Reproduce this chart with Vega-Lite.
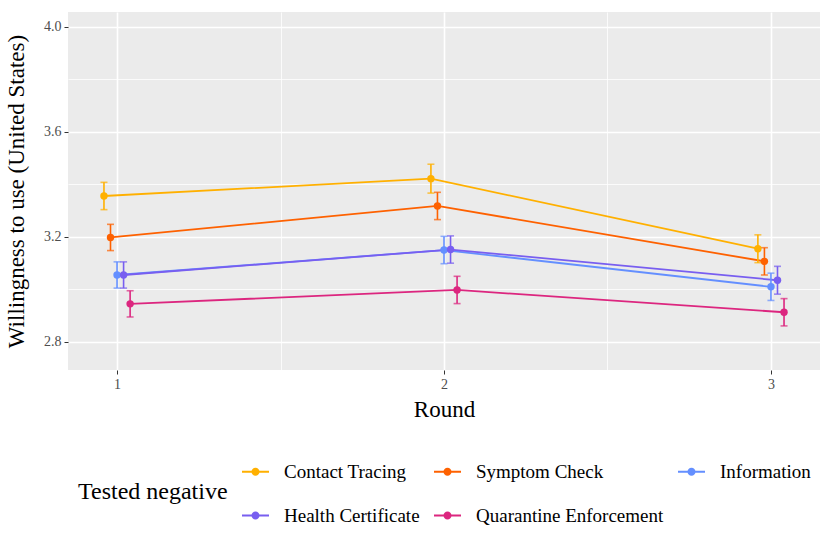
{
  "$schema": "https://vega.github.io/schema/vega-lite/v6.json",
  "width": 752,
  "height": 358,
  "padding": {"left": 5, "top": 12, "right": 10, "bottom": 5},
  "background": "white",
  "config": {
    "font": "Liberation Serif",
    "view": {"fill": "#EBEBEB", "stroke": null},
    "axis": {
      "domain": false,
      "gridColor": "white",
      "tickColor": "#333333",
      "tickSize": 4,
      "labelFont": "Liberation Serif",
      "labelColor": "#4D4D4D",
      "labelFontSize": 14,
      "labelPadding": 3,
      "titleFont": "Liberation Serif",
      "titleFontSize": 23,
      "titleFontWeight": "normal",
      "titleColor": "black"
    },
    "legend": {
      "labelFont": "Liberation Serif",
      "titleFont": "Liberation Serif"
    }
  },
  "data": {
    "values": [
      {"group": "Contact Tracing", "round": 1, "mean": 3.356, "lower": 3.304, "upper": 3.408},
      {"group": "Contact Tracing", "round": 2, "mean": 3.422, "lower": 3.367, "upper": 3.477},
      {"group": "Contact Tracing", "round": 3, "mean": 3.155, "lower": 3.102, "upper": 3.208},
      {"group": "Symptom Check", "round": 1, "mean": 3.198, "lower": 3.148, "upper": 3.248},
      {"group": "Symptom Check", "round": 2, "mean": 3.318, "lower": 3.266, "upper": 3.370},
      {"group": "Symptom Check", "round": 3, "mean": 3.107, "lower": 3.055, "upper": 3.159},
      {"group": "Information", "round": 1, "mean": 3.055, "lower": 3.005, "upper": 3.105},
      {"group": "Information", "round": 2, "mean": 3.150, "lower": 3.098, "upper": 3.202},
      {"group": "Information", "round": 3, "mean": 3.010, "lower": 2.958, "upper": 3.062},
      {"group": "Health Certificate", "round": 1, "mean": 3.055, "lower": 3.005, "upper": 3.105},
      {"group": "Health Certificate", "round": 2, "mean": 3.152, "lower": 3.100, "upper": 3.204},
      {"group": "Health Certificate", "round": 3, "mean": 3.035, "lower": 2.982, "upper": 3.088},
      {"group": "Quarantine Enforcement", "round": 1, "mean": 2.945, "lower": 2.895, "upper": 2.995},
      {"group": "Quarantine Enforcement", "round": 2, "mean": 2.998, "lower": 2.946, "upper": 3.050},
      {"group": "Quarantine Enforcement", "round": 3, "mean": 2.913, "lower": 2.861, "upper": 2.965}
    ]
  },
  "resolve": {"scale": {"x": "independent"}, "axis": {"x": "independent"}},
  "layer": [
    {
      "mark": {"type": "point", "opacity": 0},
      "encoding": {
        "x": {
          "field": "round", "type": "quantitative",
          "scale": {"domain": [0.85, 3.15], "nice": false, "zero": false},
          "axis": {
            "title": "Round",
            "values": [1, 1.5, 2, 2.5, 3],
            "labelExpr": "datum.value % 1 === 0 ? format(datum.value, 'd') : ''",
            "gridWidth": {"condition": {"test": "datum.value % 1 === 0", "value": 1.6}, "value": 0.8},
            "tickOpacity": {"condition": {"test": "datum.value % 1 === 0", "value": 1}, "value": 0},
            "titlePadding": 7
          }
        },
        "y": {
          "field": "mean", "type": "quantitative",
          "scale": {"domain": [2.693, 4.057], "nice": false, "zero": false},
          "axis": {
            "title": "Willingness to use (United States)",
            "values": [2.8, 3.0, 3.2, 3.4, 3.6, 3.8, 4.0],
            "labelExpr": "round(datum.value * 10) % 4 === 0 ? format(datum.value, '.1f') : ''",
            "gridWidth": {"condition": {"test": "round(datum.value * 10) % 4 === 0", "value": 1.6}, "value": 0.8},
            "tickOpacity": {"condition": {"test": "round(datum.value * 10) % 4 === 0", "value": 1}, "value": 0},
            "titlePadding": 15
          }
        }
      }
    },
    {
      "encoding": {
        "x": {
          "field": "round", "type": "ordinal",
          "scale": {"type": "band", "paddingInner": 0.9, "paddingOuter": 0.1},
          "axis": null
        },
        "xOffset": {
          "field": "group", "type": "nominal",
          "scale": {"domain": ["Contact Tracing", "Symptom Check", "Information", "Health Certificate", "Quarantine Enforcement"]}
        },
        "color": {
          "field": "group", "type": "nominal",
          "scale": {
            "domain": ["Contact Tracing", "Symptom Check", "Information", "Health Certificate", "Quarantine Enforcement"],
            "range": ["#FFB000", "#FE6100", "#648FFF", "#785EF0", "#DC267F"]
          },
          "legend": {
            "title": "Tested negative",
            "orient": "none",
            "legendX": 10,
            "legendY": 446,
            "direction": "horizontal",
            "columns": 3,
            "titleOrient": "left",
            "titleAnchor": "middle",
            "titleBaseline": "middle",
            "titleFontSize": 24,
            "titleFontWeight": "normal",
            "titleColor": "black",
            "titlePadding": 14,
            "labelFontSize": 19,
            "labelColor": "black",
            "labelOffset": 15,
            "labelLimit": 400,
            "symbolType": "M-1,-0.08L1,-0.08L1,0.08L-1,0.08Z M0.3,0A0.3,0.3 0 1,1 -0.3,0A0.3,0.3 0 1,1 0.3,0Z",
            "symbolSize": 729,
            "symbolStrokeWidth": 0,
            "symbolOpacity": 1,
            "rowPadding": 20,
            "columnPadding": 14
          }
        }
      },
      "layer": [
        {
          "mark": {"type": "line", "strokeWidth": 1.8},
          "encoding": {"y": {"field": "mean", "type": "quantitative"}}
        },
        {
          "mark": {"type": "rule", "strokeWidth": 1.6},
          "encoding": {
            "y": {"field": "lower", "type": "quantitative"},
            "y2": {"field": "upper"}
          }
        },
        {
          "mark": {"type": "tick", "orient": "horizontal", "size": 7, "thickness": 1.6},
          "encoding": {"y": {"field": "lower", "type": "quantitative"}}
        },
        {
          "mark": {"type": "tick", "orient": "horizontal", "size": 7, "thickness": 1.6},
          "encoding": {"y": {"field": "upper", "type": "quantitative"}}
        },
        {
          "mark": {"type": "point", "filled": true, "size": 55, "opacity": 1},
          "encoding": {"y": {"field": "mean", "type": "quantitative"}}
        }
      ]
    }
  ]
}
